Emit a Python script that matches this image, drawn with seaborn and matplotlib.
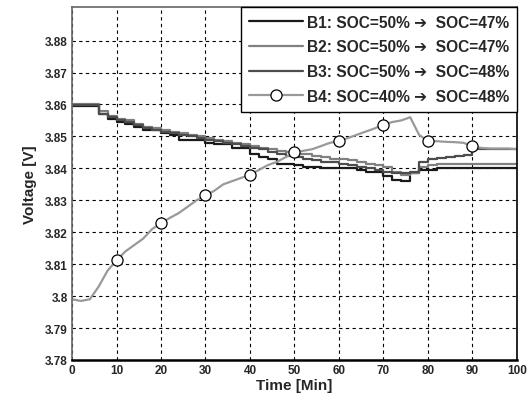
import seaborn as sns
import numpy as np
import matplotlib.pyplot as plt

# time axis, one sample every 2 min
t = np.arange(0, 101, 2)

# B1: SOC 50% -> 47%
b1 = [3.8595, 3.8595, 3.8595, 3.8570, 3.8555, 3.8545, 3.8540, 3.8530, 3.8520, 3.8520,
      3.8510, 3.8505, 3.8490, 3.8490, 3.8490, 3.8480, 3.8475, 3.8475, 3.8465, 3.8465,
      3.8445, 3.8435, 3.8430, 3.8415, 3.8415, 3.8410, 3.8405, 3.8405, 3.8400, 3.8400,
      3.8400, 3.8400, 3.8395, 3.8387, 3.8387, 3.8375, 3.8365, 3.8360, 3.8385, 3.8395,
      3.8395, 3.8400, 3.8400, 3.8400, 3.8400, 3.8400, 3.8400, 3.8400, 3.8400, 3.8400,
      3.8400]
# B2: SOC 50% -> 47%
b2 = [3.8600, 3.8600, 3.8600, 3.8580, 3.8565, 3.8555, 3.8550, 3.8540, 3.8530, 3.8525,
      3.8520, 3.8515, 3.8510, 3.8505, 3.8500, 3.8495, 3.8490, 3.8485, 3.8480, 3.8475,
      3.8470, 3.8465, 3.8460, 3.8455, 3.8450, 3.8445, 3.8445, 3.8440, 3.8435, 3.8430,
      3.8430, 3.8425, 3.8420, 3.8415, 3.8410, 3.8405, 3.8390, 3.8380, 3.8385, 3.8405,
      3.8410, 3.8415, 3.8415, 3.8415, 3.8415, 3.8415, 3.8415, 3.8415, 3.8415, 3.8415,
      3.8415]
# B3: SOC 50% -> 48%
b3 = [3.8598, 3.8598, 3.8598, 3.8570, 3.8560, 3.8550, 3.8545, 3.8535, 3.8525, 3.8520,
      3.8515, 3.8510, 3.8505, 3.8500, 3.8495, 3.8490, 3.8485, 3.8480, 3.8475, 3.8470,
      3.8465, 3.8460, 3.8450, 3.8445, 3.8440, 3.8435, 3.8430, 3.8425, 3.8420, 3.8420,
      3.8415, 3.8410, 3.8405, 3.8400, 3.8395, 3.8390, 3.8385, 3.8385, 3.8390, 3.8420,
      3.8428, 3.8432, 3.8435, 3.8438, 3.8443, 3.8460, 3.8462, 3.8462, 3.8462, 3.8462,
      3.8462]
# B4: SOC 40% -> 48%
b4 = [3.7990, 3.7985, 3.7990, 3.8030, 3.8080, 3.8112, 3.8140, 3.8160, 3.8180, 3.8210,
      3.8228, 3.8245, 3.8260, 3.8280, 3.8300, 3.8315, 3.8330, 3.8350, 3.8360, 3.8370,
      3.8380, 3.8395, 3.8410, 3.8420, 3.8435, 3.8450, 3.8455, 3.8460, 3.8470, 3.8480,
      3.8485, 3.8495, 3.8505, 3.8515, 3.8525, 3.8537, 3.8545, 3.8550, 3.8560, 3.8505,
      3.8485, 3.8485, 3.8483, 3.8482, 3.8480, 3.8469, 3.8464, 3.8462, 3.8462, 3.8462,
      3.8460]

labels = ['B1: SOC=50% \u2794  SOC=47%', 'B2: SOC=50% \u2794  SOC=47%',
          'B3: SOC=50% \u2794  SOC=48%', 'B4: SOC=40% \u2794  SOC=48%']
colors = ['#1a1a1a', '#808080', '#4d4d4d', '#999999']

yticks = [3.78, 3.79, 3.80, 3.81, 3.82, 3.83, 3.84, 3.85, 3.86, 3.87, 3.88]
ytick_labels = ['3.78', '3.79', '3.8', '3.81', '3.82', '3.83', '3.84', '3.85', '3.86', '3.87', '3.88']
xticks = [0, 10, 20, 30, 40, 50, 60, 70, 80, 90, 100]

sns.set_style('white')
plt.rcParams['font.family'] = ['Liberation Sans', 'DejaVu Sans']

fig = plt.figure(figsize=(5.31, 4.02), dpi=100)
ax = fig.add_axes([0.1356, 0.102, 0.838, 0.878])

sns.lineplot(x=t, y=b1, ax=ax, color=colors[0], lw=1.6, drawstyle='steps-post', label=labels[0])
sns.lineplot(x=t, y=b2, ax=ax, color=colors[1], lw=1.6, drawstyle='steps-post', label=labels[1])
sns.lineplot(x=t, y=b3, ax=ax, color=colors[2], lw=1.6, drawstyle='steps-post', label=labels[2])
sns.lineplot(x=t, y=b4, ax=ax, color=colors[3], lw=1.6, label=labels[3],
             marker='o', markersize=8, markerfacecolor='white', markeredgecolor='black',
             markeredgewidth=0.9, markevery=list(range(5, 50, 5)))

ax.set_xlim(0, 100)
ax.set_ylim(3.78, 3.8905)
ax.set_xticks(xticks)
ax.set_xticklabels([str(v) for v in xticks], fontsize=8.5, fontweight='bold')
ax.set_yticks(yticks)
ax.set_yticklabels(ytick_labels, fontsize=8.5, fontweight='bold')
ax.tick_params(direction='in', length=4, pad=3)
ax.grid(True, color='black', linestyle=(0, (3, 3)), linewidth=0.8)
for s in ax.spines.values():
    s.set_color('black')
    s.set_linewidth(1.2)
ax.spines['left'].set_color('#666666')
ax.spines['top'].set_color('#666666')
ax.spines['bottom'].set_linewidth(1.8)

ax.set_xlabel('Time [Min]', fontsize=11, fontweight='bold', labelpad=1)
ax.set_ylabel('Voltage [V]', fontsize=11, fontweight='bold', labelpad=6)

leg = ax.legend(loc='upper right', fontsize=11.2, frameon=True, fancybox=False,
                edgecolor='black', framealpha=1, borderaxespad=0, handlelength=3.5,
                labelspacing=0.62, borderpad=0.5, handletextpad=0.25)
leg.get_frame().set_linewidth(1.0)
for txt in leg.get_texts():
    txt.set_fontweight('bold')

fig.savefig('out.png', dpi=100)
